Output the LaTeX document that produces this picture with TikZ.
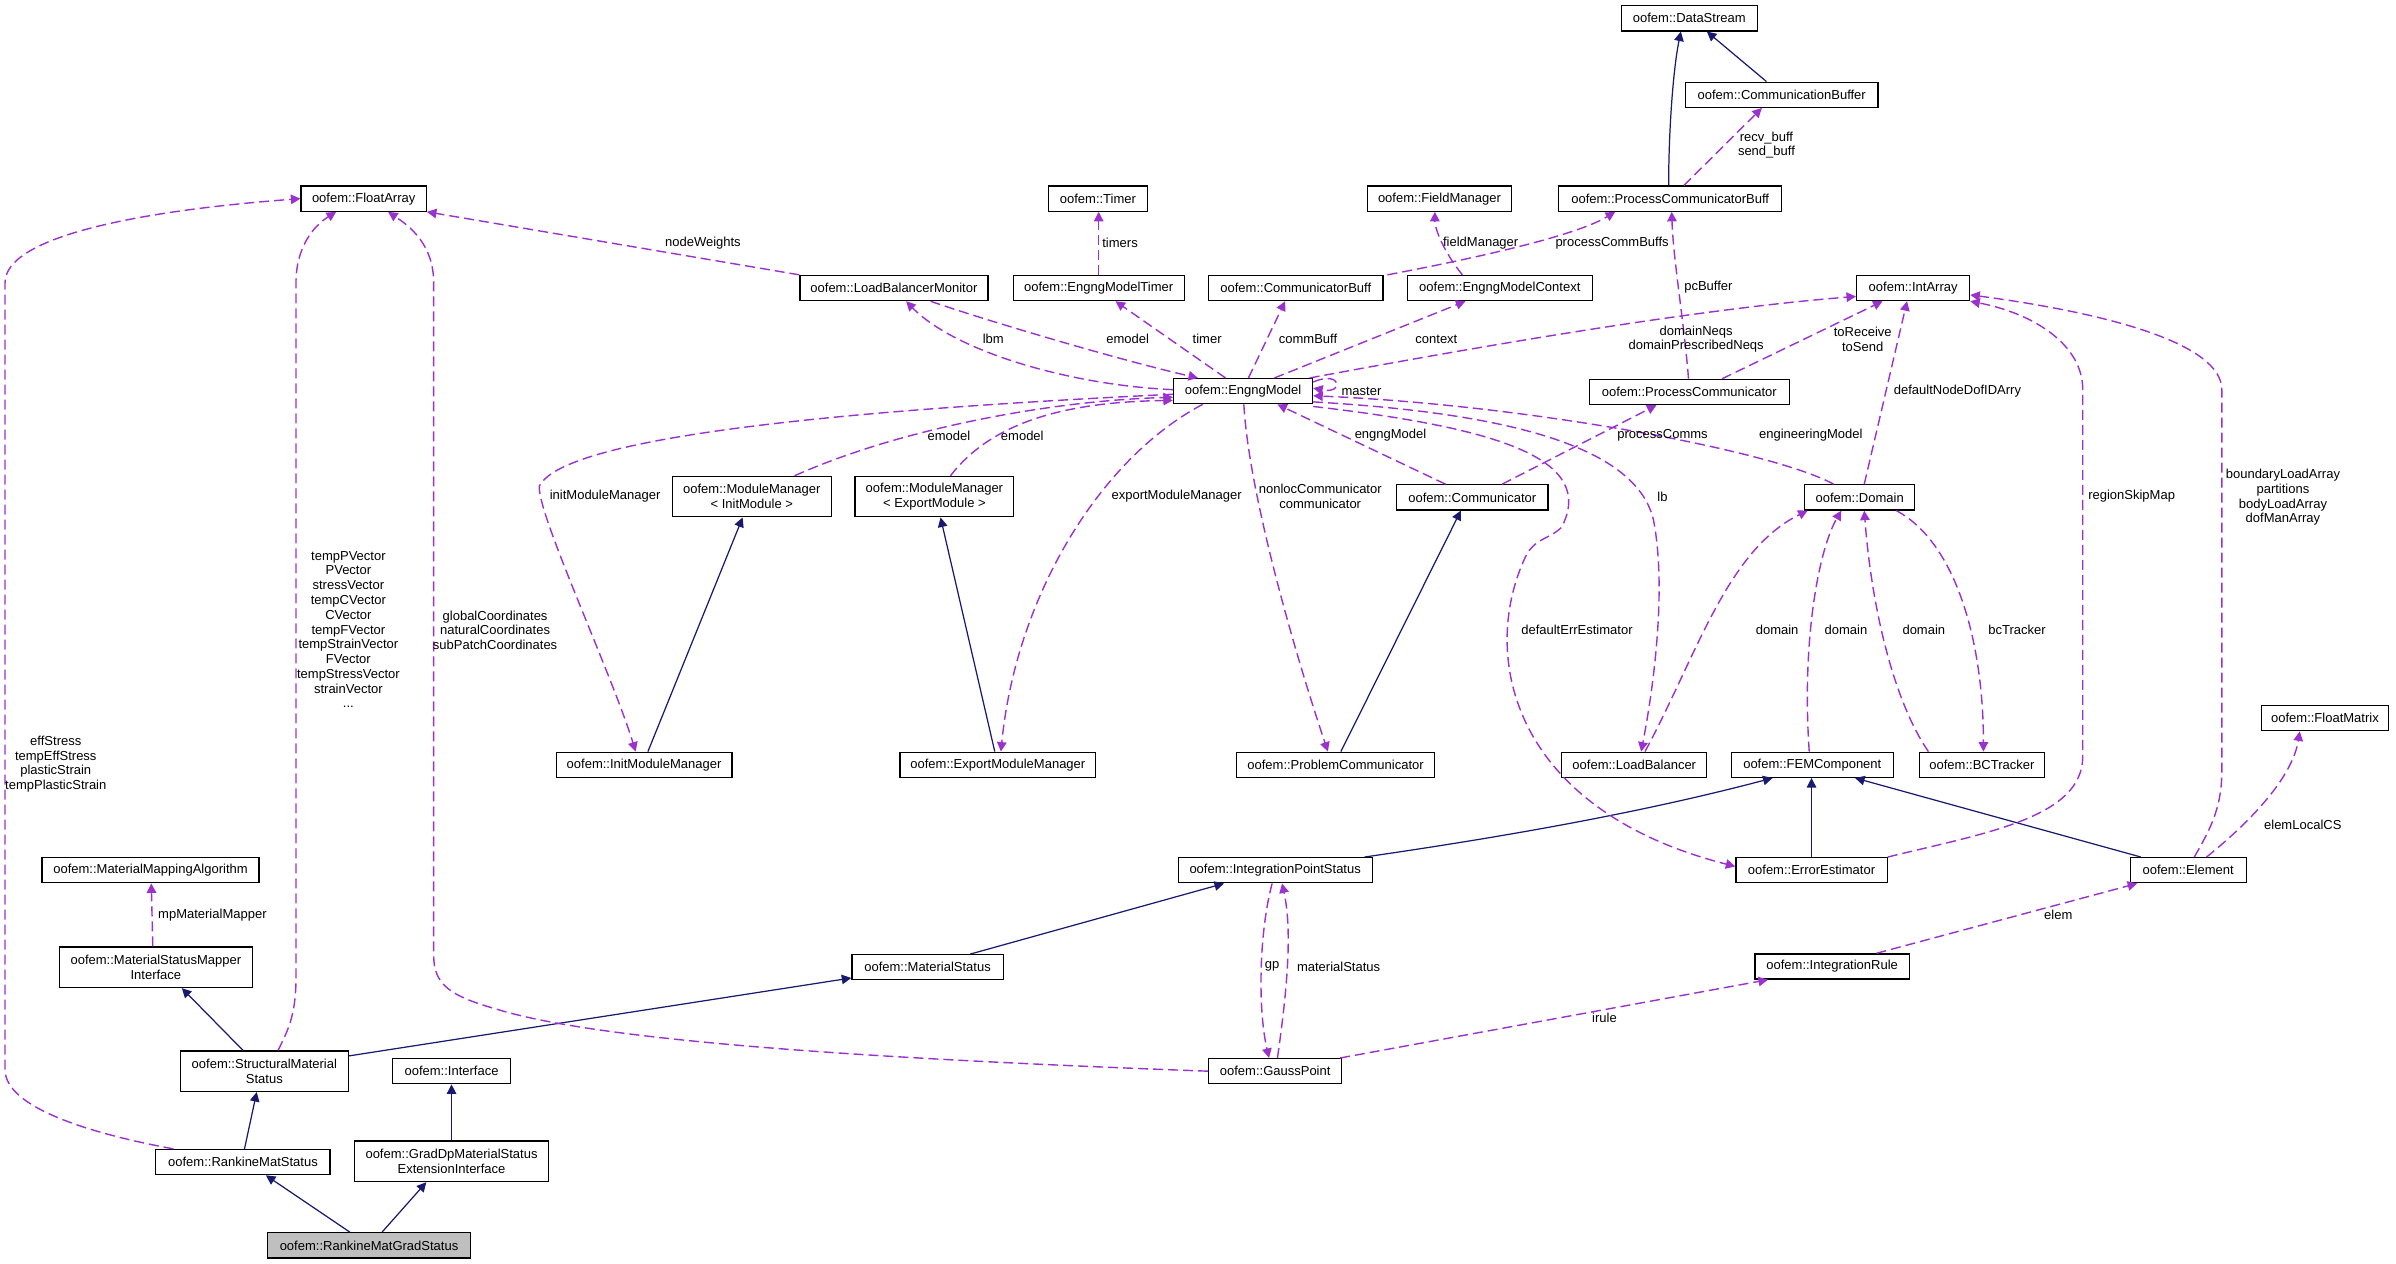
\documentclass[tikz,border=0pt]{standalone}
\usepackage{fontspec}
\setmainfont{Liberation Sans}
\usetikzlibrary{arrows.meta}

\definecolor{violauso}{RGB}{154,50,205}
\definecolor{bluederiva}{RGB}{25,25,112}
\definecolor{grigiofocus}{RGB}{191,191,191}

\begin{document}
\begin{tikzpicture}[
  x=0.3056mm, y=-0.3056mm,
  font=\fontsize{7.4}{8.4}\selectfont,
  classe/.style={draw=black, line width=0.7pt, fill=white, inner sep=0pt, minimum height=5.04mm, minimum width=#1*0.3056mm, align=center},
  classedoppia/.style={classe=#1, minimum height=8.1mm},
  eredita/.style={draw=bluederiva, line width=0.7pt, -{Triangle[length=1.9mm, width=1.9mm]}},
  uso/.style={draw=violauso, line width=0.8pt, dash pattern=on 2mm off 1mm, -{Triangle[length=1.9mm, width=1.9mm]}},
  etichetta/.style={inner sep=0pt, align=center}
]

%--------------------------------------------------------------
% Cornice
%--------------------------------------------------------------
\path[fill=white] (0,0) rectangle (1568,827);
\useasboundingbox (0,0) rectangle (1568,827);

%--------------------------------------------------------------
% Classi
%--------------------------------------------------------------
\node[classe=89] (ds) at (1105.5,12) {oofem::DataStream};
\node[classe=126] (cb) at (1166,62) {oofem::CommunicationBuffer};
\node[classe=146] (pcb) at (1093,130) {oofem::ProcessCommunicatorBuff};
\node[classe=82] (fa) at (238,130) {oofem::FloatArray};
\node[classe=65] (tm) at (718.5,130) {oofem::Timer};
\node[classe=94] (fm) at (942,130) {oofem::FieldManager};
\node[classe=123] (lbm) at (585,188.5) {oofem::LoadBalancerMonitor};
\node[classe=112] (emt) at (719,188.5) {oofem::EngngModelTimer};
\node[classe=114] (cbuf) at (848,188.5) {oofem::CommunicatorBuff};
\node[classe=121] (emc) at (981.5,188.5) {oofem::EngngModelContext};
\node[classe=74] (ia) at (1252,188.5) {oofem::IntArray};
\node[classe=91] (em) at (813.5,256) {oofem::EngngModel};
\node[classe=131] (pc) at (1105.5,256.5) {oofem::ProcessCommunicator};
\node[classedoppia=104] (mmi) at (492,325) {oofem::ModuleManager\\< InitModule >};
\node[classedoppia=104] (mme) at (611.5,325) {oofem::ModuleManager\\< ExportModule >};
\node[classe=99] (comm) at (963.5,325.5) {oofem::Communicator};
\node[classe=72] (dom) at (1217,325.5) {oofem::Domain};
\node[classe=115] (imm) at (421.5,500.5) {oofem::InitModuleManager};
\node[classe=128] (emm) at (653,500.5) {oofem::ExportModuleManager};
\node[classe=130] (prc) at (874,500.5) {oofem::ProblemCommunicator};
\node[classe=95] (lb) at (1069.5,500.5) {oofem::LoadBalancer};
\node[classe=106] (fem) at (1186,500.5) {oofem::FEMComponent};
\node[classe=82] (bct) at (1297,500.5) {oofem::BCTracker};
\node[classe=83] (fmat) at (1521.5,470) {oofem::FloatMatrix};
\node[classe=142] (mma) at (98.5,569.5) {oofem::MaterialMappingAlgorithm};
\node[classe=127] (ips) at (834.5,569.5) {oofem::IntegrationPointStatus};
\node[classe=99] (ee) at (1185.5,569.5) {oofem::ErrorEstimator};
\node[classe=76] (el) at (1432,569.5) {oofem::Element};
\node[classedoppia=126] (msmi) at (102,633) {oofem::MaterialStatusMapper\\Interface};
\node[classe=99] (ms) at (607,633) {oofem::MaterialStatus};
\node[classe=101] (ir) at (1199,632.5) {oofem::IntegrationRule};
\node[classedoppia=110] (sms) at (173,701) {oofem::StructuralMaterial\\Status};
\node[classe=77] (intf) at (295.5,701) {oofem::Interface};
\node[classe=87] (gp) at (834.5,701) {oofem::GaussPoint};
\node[classe=114] (rms) at (159,760.5) {oofem::RankineMatStatus};
\node[classedoppia=127] (gdp) at (295.5,760) {oofem::GradDpMaterialStatus\\ExtensionInterface};
\node[classe=133, fill=grigiofocus] (rmg) at (241.5,815) {oofem::RankineMatGradStatus};

%--------------------------------------------------------------
% Ereditarieta
%--------------------------------------------------------------
\draw[eredita] (229,0 |- rmg.north) -- (174,0 |- rms.south);
\draw[eredita] (250,0 |- rmg.north) -- (279,0 |- gdp.south);
\draw[eredita] (295.5,0 |- gdp.north) -- (295.5,0 |- intf.south);
\draw[eredita] (160,0 |- rms.north) -- (168,0 |- sms.south);
\draw[eredita] (159,0 |- sms.north) -- (119,0 |- msmi.south);
\draw[eredita] (sms.east |- 0,691) -- (ms.west |- 0,640);
\draw[eredita] (635,0 |- ms.north) -- (801,0 |- ips.south);
\draw[eredita] (893,0 |- ips.north) .. controls (975,549) and (1070,533) .. (1160,0 |- fem.south);
\draw[eredita] (1185.5,0 |- ee.north) -- (1185.5,0 |- fem.south);
\draw[eredita] (1401,0 |- el.north) -- (1214,0 |- fem.south);
\draw[eredita] (424,0 |- imm.north) -- (486,0 |- mmi.south);
\draw[eredita] (651,0 |- emm.north) -- (615.5,0 |- mme.south);
\draw[eredita] (877.5,0 |- prc.north) -- (956,0 |- comm.south);
\draw[eredita] (1092,0 |- pcb.north) .. controls (1092,85) and (1095,45) .. (1100,0 |- ds.south);
\draw[eredita] (1156,0 |- cb.north) -- (1117,0 |- ds.south);

%--------------------------------------------------------------
% Uso: FloatArray e rami a sinistra
%--------------------------------------------------------------
\draw[uso] (113.5,0 |- rms.north) .. controls (60,742) and (3.3,725) .. (3.3,700) -- (3.3,185) .. controls (3.3,155) and (90,138) .. (fa.west);
\draw[uso] (182,0 |- sms.north) .. controls (188,675) and (193.7,665) .. (193.7,640) -- (193.7,185) .. controls (193.7,162) and (205,148) .. (220,0 |- fa.south);
\draw[uso] (gp.west) .. controls (600,694) and (400,683) .. (327,661) .. controls (295,652) and (283.8,645) .. (283.8,625) -- (283.8,185) .. controls (283.8,160) and (268,148) .. (254,0 |- fa.south);
\draw[uso] (lbm.north west) -- (fa.south east);
\draw[uso] (100,0 |- msmi.north) -- (99,0 |- mma.south);
\node[etichetta] (leff) at (36.5,500) {effStress\\tempEffStress\\plasticStrain\\tempPlasticStrain};
\node[etichetta] (lvec) at (228,412) {tempPVector\\PVector\\stressVector\\tempCVector\\CVector\\tempFVector\\tempStrainVector\\FVector\\tempStressVector\\strainVector\\...};
\node[etichetta] (lcoord) at (324,412.5) {globalCoordinates\\naturalCoordinates\\subPatchCoordinates};
\node[etichetta] (lnodew) at (460,159) {nodeWeights};
\node[etichetta] (lmapper) at (139,599) {mpMaterialMapper};

%--------------------------------------------------------------
% Uso: intorno a EngngModel
%--------------------------------------------------------------
\draw[uso] (em.west |- 0,255) .. controls (700,252) and (625,230) .. (593,0 |- lbm.south);
\draw[uso] (609,0 |- lbm.south) .. controls (640,208) and (730,235) .. (784,0 |- em.north);
\draw[uso] (719,0 |- emt.north) -- (719,0 |- tm.south);
\draw[uso] (802,0 |- em.north) -- (730,0 |- emt.south);
\draw[uso] (817,0 |- em.north) -- (841,0 |- cbuf.south);
\draw[uso] (834,0 |- em.north) -- (959,0 |- emc.south);
\draw[uso] (957,0 |- emc.north) .. controls (945,165) and (939,150) .. (939,0 |- fm.south);
\draw[uso] (908,0 |- cbuf.north) .. controls (960,170) and (1030,155) .. (1057,0 |- pcb.south);
\draw[uso] (1102,0 |- pcb.north) -- (1153,0 |- cb.south);
\draw[uso] (1105,0 |- pc.north) .. controls (1102,210) and (1095,170) .. (1094,0 |- pcb.south);
\draw[uso] (857,0 |- em.north) .. controls (940,232) and (1100,203) .. (ia.west |- 0,194);
\draw[uso] (1127,0 |- pc.north) -- (1232,0 |- ia.south);
\draw[uso] (1220,0 |- dom.north) -- (1248,0 |- ia.south);
\draw[uso] (em.east |- 0,250) .. controls (878,242) and (880,258) .. (em.east |- 0,254);
\draw[uso] (520,0 |- mmi.north) .. controls (590,280) and (690,262) .. (em.west |- 0,260);
\draw[uso] (622,0 |- mme.north) .. controls (650,275) and (700,263) .. (em.west |- 0,262);
\draw[uso] (em.west |- 0,258) .. controls (560,268) and (370,285) .. (353,318) .. controls (351,335) and (400,440) .. (416,0 |- imm.north);
\draw[uso] (787,0 |- em.south) .. controls (720,300) and (665,390) .. (655,0 |- emm.north);
\draw[uso] (814,0 |- em.south) .. controls (817,320) and (845,420) .. (869,0 |- prc.north);
\draw[uso] (946,0 |- comm.north) -- (836,0 |- em.south);
\draw[uso] (983,0 |- comm.north) -- (1084,0 |- pc.south);
\draw[uso] (1200,0 |- dom.north) .. controls (1160,295) and (1000,265) .. (em.east |- 0,259);
\draw[uso] (em.east |- 0,263) .. controls (980,270) and (1070,290) .. (1082,340) .. controls (1090,380) and (1084,440) .. (1074,0 |- lb.north);
\draw[uso] (em.east |- 0,266) .. controls (980,280) and (1045,300) .. (1022,345) .. controls (1014,353) and (1004,352) .. (998,365) .. controls (968,430) and (990,530) .. (ee.west |- 0,567);
\node[etichetta] (llbm) at (650,222) {lbm};
\node[etichetta] (lemodel) at (738,222) {emodel};
\node[etichetta] (ltimers) at (733,159) {timers};
\node[etichetta] (ltimer) at (790,222) {timer};
\node[etichetta] (lcommbuff) at (856,222) {commBuff};
\node[etichetta] (lcontext) at (940,222) {context};
\node[etichetta] (lfield) at (969,159) {fieldManager};
\node[etichetta] (lpcbuffs) at (1055,159) {processCommBuffs};
\node[etichetta] (lbuff) at (1156,95) {recv\_buff\\send\_buff};
\node[etichetta] (lpcbuffer) at (1118,188) {pcBuffer};
\node[etichetta] (lneqs) at (1110,222) {domainNeqs\\domainPrescribedNeqs};
\node[etichetta] (ltorecv) at (1219,222) {toReceive\\toSend};
\node[etichetta] (ldofid) at (1281,256) {defaultNodeDofIDArry};
\node[etichetta] (lmaster) at (891,256) {master};
\node[etichetta] (lemodeli) at (621,285) {emodel};
\node[etichetta] (lemodele) at (669,285) {emodel};
\node[etichetta] (linitmm) at (396,325) {initModuleManager};
\node[etichetta] (lexportmm) at (770,325) {exportModuleManager};
\node[etichetta] (lnonloc) at (864,325) {nonlocCommunicator\\communicator};
\node[etichetta] (lengng) at (910,285) {engngModel};
\node[etichetta] (lpcomms) at (1088,285) {processComms};
\node[etichetta] (lengmodel) at (1185,285) {engineeringModel};
\node[etichetta] (llb) at (1088,325) {lb};
\node[etichetta] (lerrest) at (1032,412) {defaultErrEstimator};

%--------------------------------------------------------------
% Uso: Domain, elementi e punti di Gauss
%--------------------------------------------------------------
\draw[uso] (ee.north east) .. controls (1300,545) and (1363,535) .. (1363,495) -- (1363,255) .. controls (1363,225) and (1330,205) .. (ia.south east);
\draw[uso] (1436,0 |- el.north) .. controls (1445,545) and (1454,530) .. (1454,505) -- (1454,255) .. controls (1454,225) and (1380,205) .. (ia.east |- 0,193);
\draw[uso] (1184,0 |- fem.north) .. controls (1179,420) and (1190,360) .. (1205,0 |- dom.south);
\draw[uso] (1076.5,0 |- lb.north) .. controls (1110,430) and (1130,360) .. (1183,0 |- dom.south);
\draw[uso] (1262,0 |- bct.north) .. controls (1240,460) and (1225,400) .. (1220,0 |- dom.south);
\draw[uso] (1241,0 |- dom.south) .. controls (1280,355) and (1298,420) .. (1298,0 |- bct.north);
\draw[uso] (1444,0 |- el.north) .. controls (1470,540) and (1500,510) .. (1505,0 |- fmat.south);
\draw[uso] (1228,0 |- ir.north) -- (1398.6,0 |- el.south);
\draw[uso] (877,0 |- gp.north) -- (1157,0 |- ir.south);
\draw[uso] (836,0 |- gp.north) .. controls (842,650) and (846,610) .. (839,0 |- ips.south);
\draw[uso] (832.5,0 |- ips.south) .. controls (824,610) and (823,660) .. (830.5,0 |- gp.north);
\node[etichetta] (lskip) at (1395,325) {regionSkipMap};
\node[etichetta] (larrays) at (1494,325.5) {boundaryLoadArray\\partitions\\bodyLoadArray\\dofManArray};
\node[etichetta] (ldomlb) at (1163,412) {domain};
\node[etichetta] (ldomfem) at (1208,412) {domain};
\node[etichetta] (ldombct) at (1259,412) {domain};
\node[etichetta] (lbctracker) at (1320,412) {bcTracker};
\node[etichetta] (llocalcs) at (1507,540) {elemLocalCS};
\node[etichetta] (lelem) at (1347,599) {elem};
\node[etichetta] (lgp) at (832.5,632.6) {gp};
\node[etichetta] (lmatstatus) at (876,632.6) {materialStatus};
\node[etichetta] (lirule) at (1050,666) {irule};

\end{tikzpicture}
\end{document}
